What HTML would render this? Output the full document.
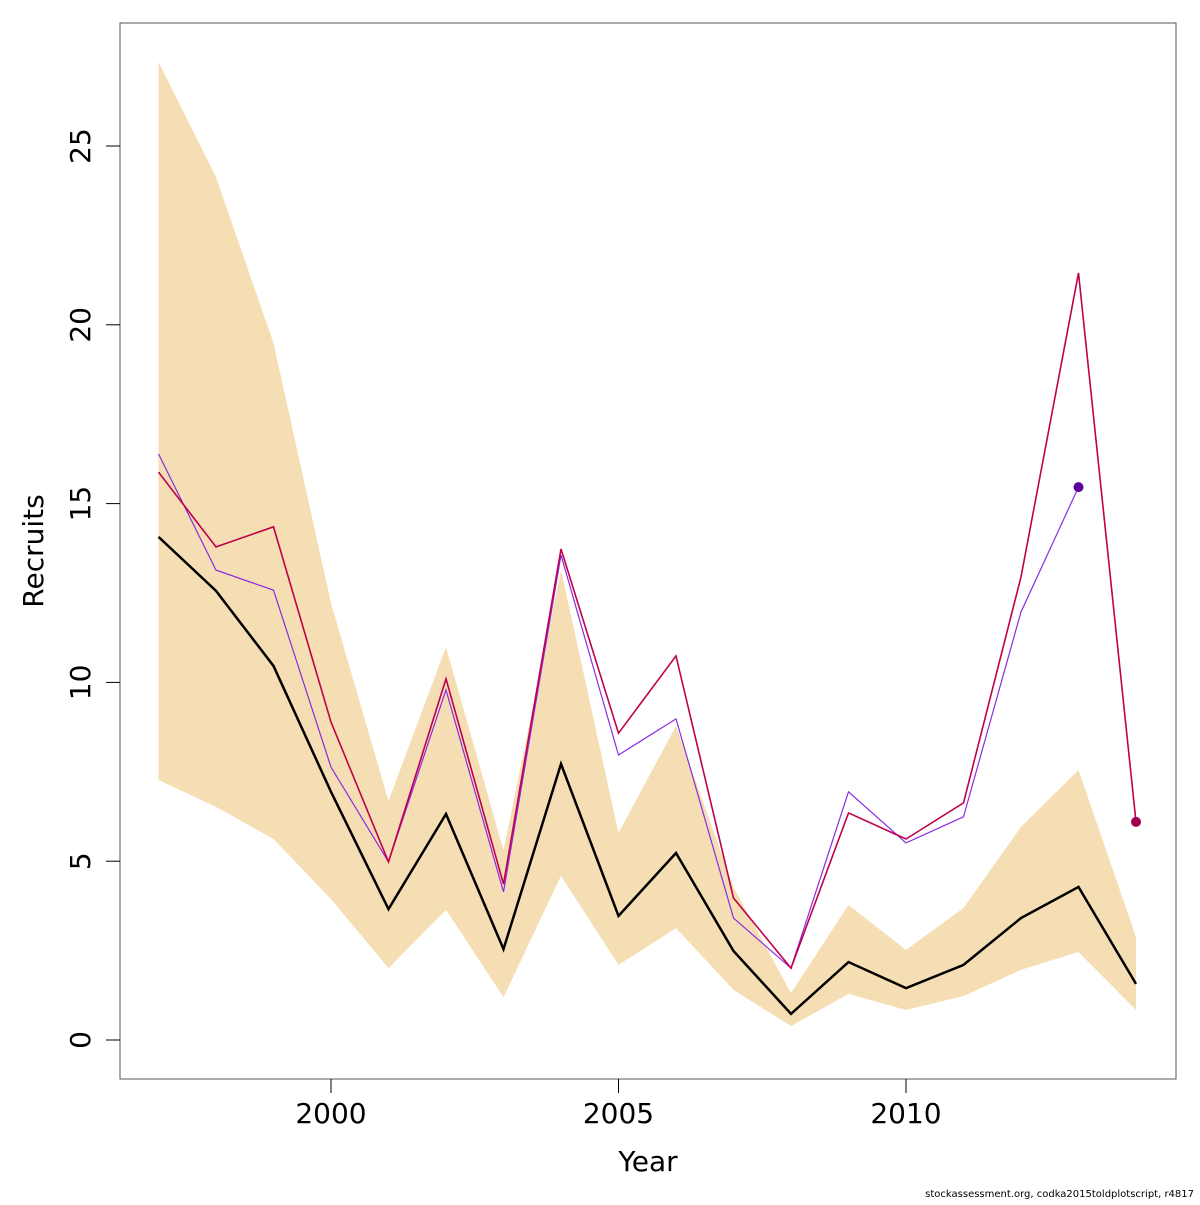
<!DOCTYPE html>
<html><head><meta charset="utf-8"><style>
body{margin:0;background:#fff}
svg text{font-family:"DejaVu Sans","Liberation Sans",sans-serif}
</style></head><body>
<svg id="chart" width="1200" height="1200" xmlns="http://www.w3.org/2000/svg">
<g id="plot"></g>
</svg>
<script>
const years=[1997,1998,1999,2000,2001,2002,2003,2004,2005,2006,2007,2008,2009,2010,2011,2012,2013,2014];
const estimate=[14.07,12.56,10.46,6.94,3.66,6.32,2.54,7.72,3.47,5.23,2.49,0.73,2.18,1.45,2.10,3.41,4.28,1.57];
const upper=[27.35,24.13,19.49,12.22,6.68,10.99,5.3,13.14,5.79,8.78,4.28,1.31,3.78,2.52,3.69,5.96,7.55,2.88];
const lower=[7.27,6.52,5.62,3.94,2.01,3.64,1.20,4.59,2.10,3.13,1.40,0.39,1.29,0.84,1.23,1.96,2.46,0.84];
const redSeries=[15.88,13.79,14.35,8.89,4.98,10.1,4.36,13.73,8.58,10.74,3.97,2.01,6.35,5.62,6.63,12.95,21.45,6.10];
const purpleSeries=[16.39,13.14,12.58,7.63,4.98,9.79,4.14,13.56,7.97,8.98,3.41,2.01,6.94,5.51,6.24,11.97,15.46];
const xTicks=[2000,2005,2010];
const yTicks=[0,5,10,15,20,25];
const NS="http://www.w3.org/2000/svg";
const g=document.getElementById('plot');
const X=y=>331+(y-2000)*57.5;
const Y=v=>1040-v*35.76;
function mk(t,a,p){const e=document.createElementNS(NS,t);for(const k in a)e.setAttribute(k,a[k]);(p||g).appendChild(e);return e;}
// band
let pts=years.map((y,i)=>X(y)+','+Y(upper[i])).concat(years.map((y,i)=>X(y)+','+Y(lower[i])).reverse());
let band=mk('polygon',{points:pts.join(' '),fill:'#F5DEB3'});


function line(vals,col,w,name){
  const p=vals.map((v,i)=>X(years[i])+','+Y(v)).join(' ');
  const e=mk('polyline',{points:p,fill:'none',stroke:col,'stroke-width':w,'stroke-linejoin':'miter'});
  
  
}
line(purpleSeries,'#8A2BE2',1.2,'purple-series-line');
line(redSeries,'#C0004C',1.6,'red-series-line');
line(estimate,'#000',2.5,'estimate-line');
let d1=mk('circle',{cx:X(years[purpleSeries.length-1]),cy:Y(purpleSeries[purpleSeries.length-1]),r:5,fill:'#5B0099'});


let d2=mk('circle',{cx:X(years[redSeries.length-1]),cy:Y(redSeries[redSeries.length-1]),r:5,fill:'#A0004F'});


// frame
let fr=mk('rect',{x:120,y:23,width:1056,height:1056,fill:'none',stroke:'#555','stroke-width':1});


xTicks.forEach(t=>{
  let l=mk('line',{x1:X(t),x2:X(t),y1:1079,y2:1093,stroke:'#000'});
  
  
  let tx=mk('text',{x:X(t),y:1123,'font-size':28,'text-anchor':'middle'});
  tx.textContent=t;
  
  
});
yTicks.forEach(t=>{
  let l=mk('line',{x1:106,x2:120,y1:Y(t),y2:Y(t),stroke:'#000'});
  
  
  let tx=mk('text',{x:90,y:Y(t),'font-size':28,'text-anchor':'middle',transform:`rotate(-90 90 ${Y(t)})`});
  tx.textContent=t;
  
  
});
let xt=mk('text',{x:648,y:1171,'font-size':28,'text-anchor':'middle'});
xt.textContent='Year';


let yt=mk('text',{x:43,y:551,'font-size':28,'text-anchor':'middle',transform:'rotate(-90 43 551)'});
yt.textContent='Recruits';


let ft=mk('text',{x:1194,y:1197,'font-size':10,'text-anchor':'end'});
ft.textContent='stockassessment.org, codka2015toldplotscript, r4817';


</script>
</body></html>
